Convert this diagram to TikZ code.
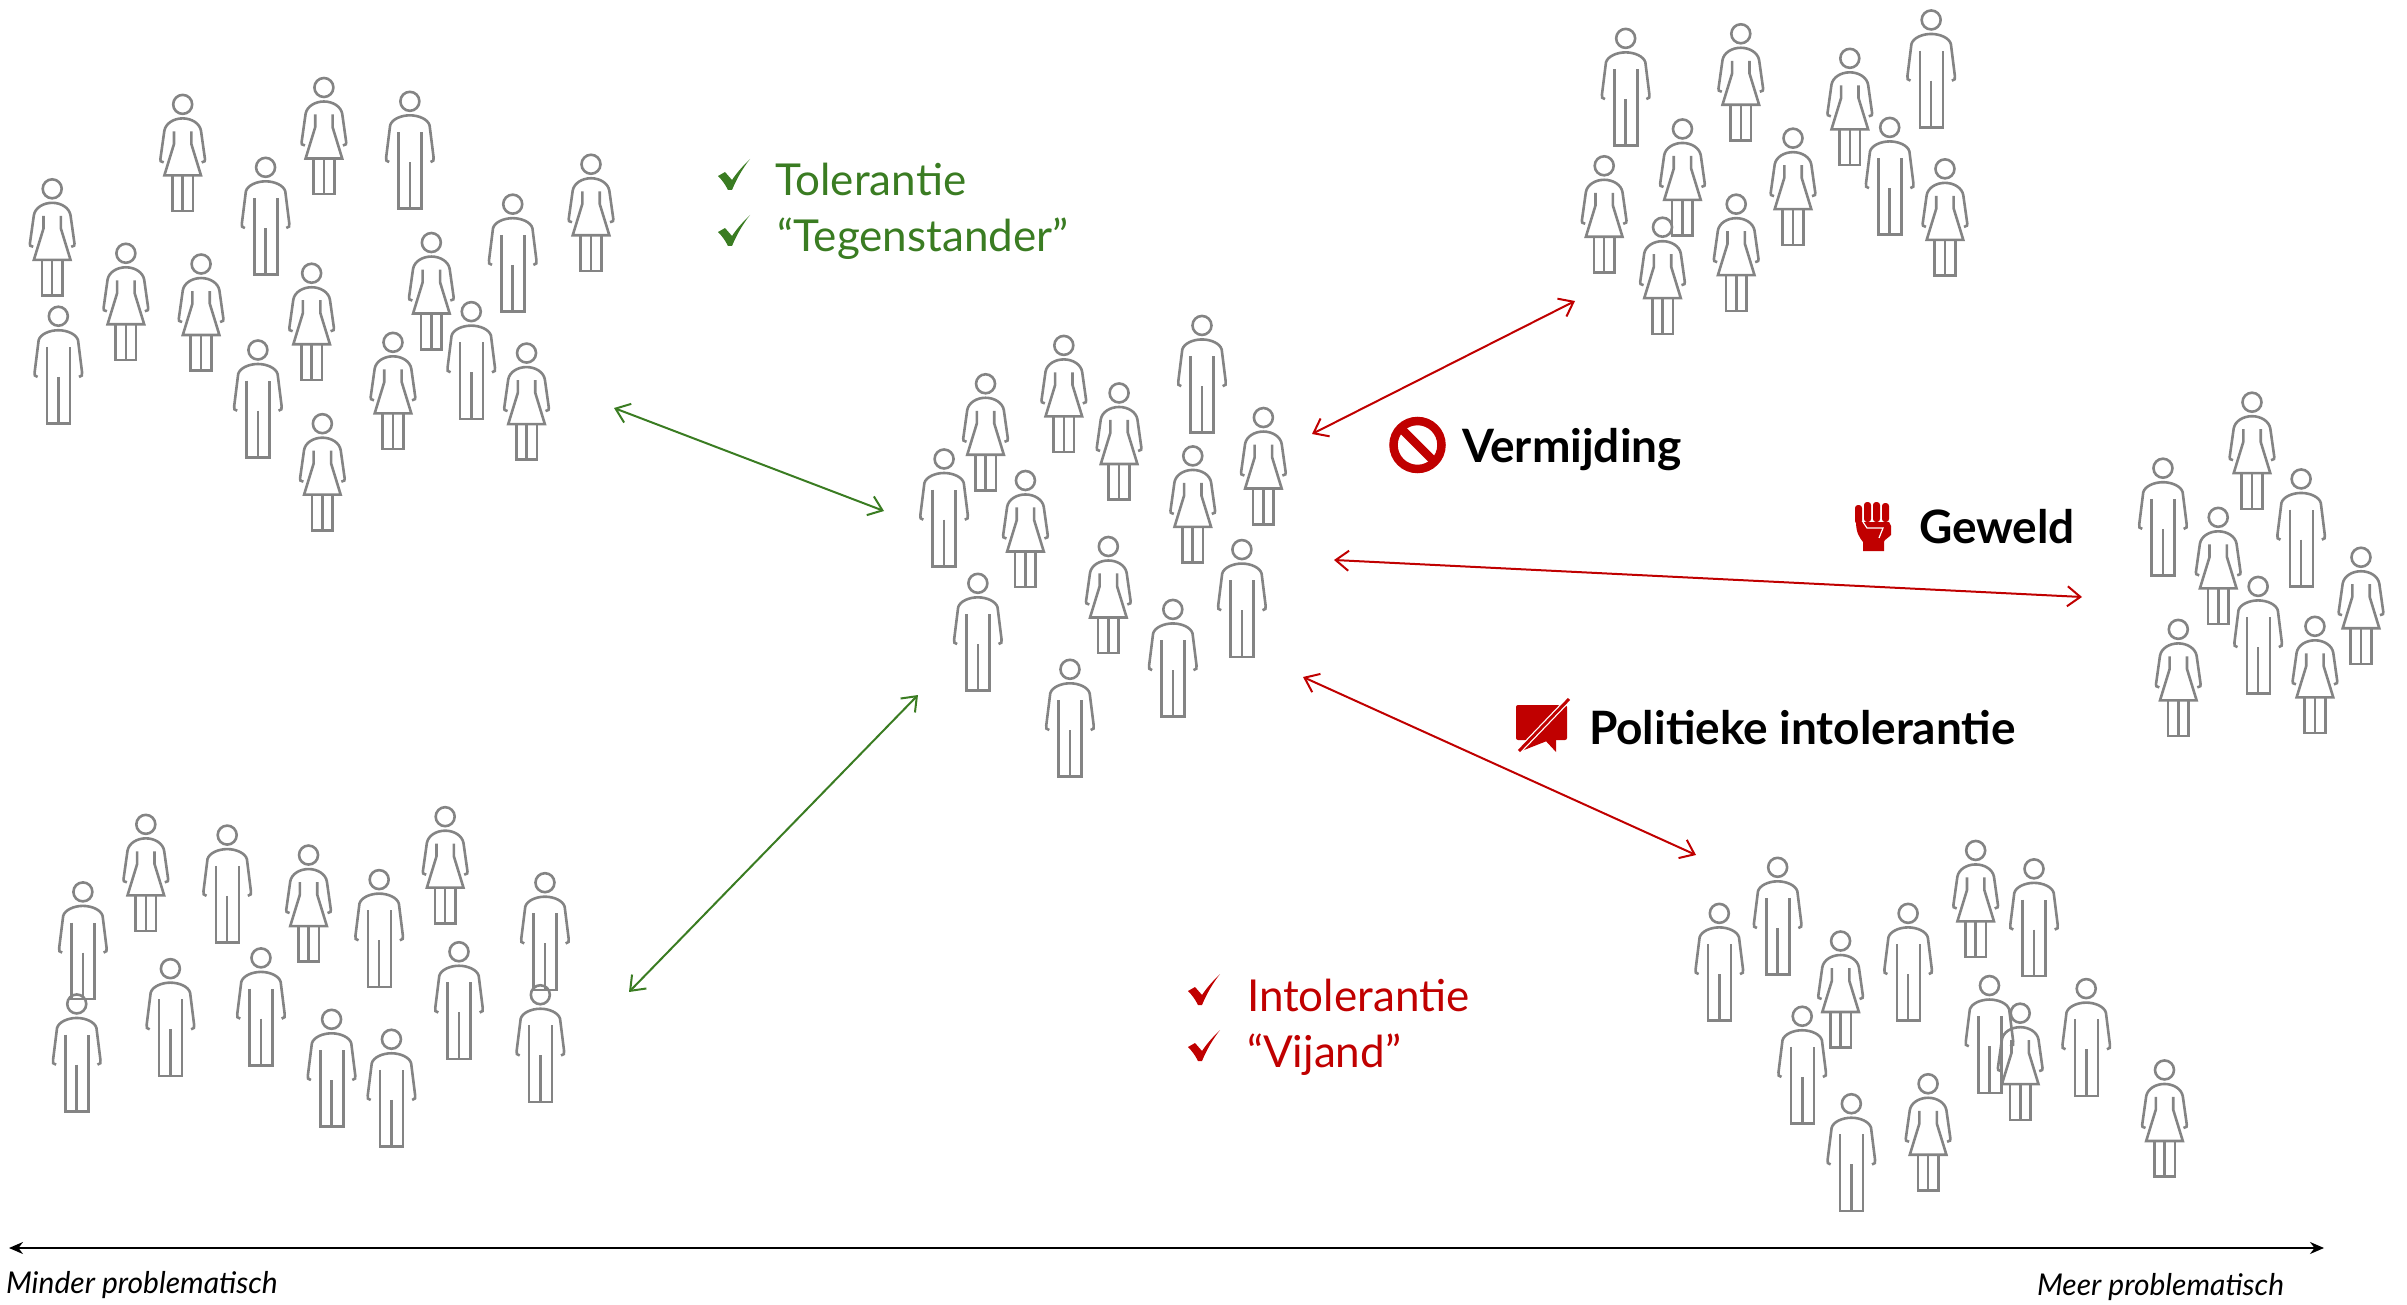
\documentclass[tikz,border=0pt]{standalone}
\usepackage{fontspec}
\setmainfont{Lato}
\usetikzlibrary{arrows.meta}
\definecolor{figgrey}{HTML}{848484}
\definecolor{okgreen}{HTML}{3A7C22}
\definecolor{badred}{HTML}{C00000}
\tikzset{
  person/.style={draw=figgrey,line width=2.6pt,line join=miter,fill=none},
  twoway/.style={line width=2pt,{Straight Barb[length=13pt,width=20pt,line width=2pt]}-{Straight Barb[length=13pt,width=20pt,line width=2pt]}},
  axisline/.style={black,line width=2pt,{Stealth[length=14pt,width=12pt]}-{Stealth[length=14pt,width=12pt]}},
  lab/.style={anchor=base west,inner sep=0pt,outer sep=0pt},
  goodtxt/.style={lab,text=okgreen,font=\fontsize{44}{50}\selectfont},
  badtxt/.style={lab,text=badred,font=\fontsize{44}{50}\selectfont},
  boldtxt/.style={lab,text=black,font=\fontsize{46}{50}\selectfont\bfseries},
  axistxt/.style={lab,text=black,font=\fontsize{30}{36}\selectfont\itshape},
  man/.pic={
    \draw[person] (0,0) circle (9.5);
    \draw[person] (-20.7,60.7) .. controls (-23.7,60.7) and (-24.2,58.5) .. (-23.7,56)
      -- (-19.7,24) .. controls (-18,18) and (-9,14) .. (0,14)
      .. controls (9,14) and (18,18) .. (19.7,24) -- (23.7,56)
      .. controls (24.2,58.5) and (23.7,60.7) .. (20.7,60.7);
    \draw[person] (-11.3,30.7) -- (-11.3,107.3) -- (11.7,107.3) -- (11.7,30.7);
    \draw[person] (0,60.7) -- (0,107.3);
  },
  woman/.pic={
    \draw[person] (0,0) circle (9.5);
    \draw[person] (-19,58) .. controls (-22,58) and (-22.8,56) .. (-22.3,54.7)
      -- (-18.3,26.3) .. controls (-17,19) and (-9,14) .. (0,14)
      .. controls (9,14) and (17,19) .. (18.3,26.3) -- (22.3,54.7)
      .. controls (22.8,56) and (22,58) .. (19,58);
    \draw[person] (-8.7,27) -- (-8.7,39.7) -- (-18.3,71) -- (18.3,71) -- (8.7,39.7) -- (8.7,27);
    \draw[person] (-10.3,71) -- (-10.3,106.7) -- (10.3,106.7) -- (10.3,71);
    \draw[person] (0,71) -- (0,106.7);
  },
  checkmark/.pic={
    \fill (0,17) -- (7,13) -- (14,21) .. controls (20,12) and (26,6) .. (32,0)
      .. controls (25,9) and (19,19) .. (14,31) -- (10,31) .. controls (7,25) and (4,21) .. (0,17) -- cycle;
  }
}
\begin{document}
\begin{tikzpicture}[x=1pt,y=-1pt]
\useasboundingbox (0,0) rectangle (2407,1305);
% men
\foreach \px/\py in {
 267/66,173/109,334/133,38/206,307/203,168/228,
 783/212,615/299,809/358,637/380,764/397,697/436,
 1059/25,1258/13,1231/83,
 1409/305,1499/312,1471/382,
 148/544,247/573,355/575,54/581,111/631,299/620,170/624,50/654,352/648,216/664,255/677,
 1158/565,1325/566,1120/595,1243/595,1296/642,1359/644,1174/662,1206/719}
 \pic at ({\px*1.5351},{\py*1.5351}) {man};
% women
\foreach \px/\py in {
 119/68,211/57,34/123,385/107,82/165,131/172,281/158,203/178,256/223,343/230,210/276,
 693/225,642/250,729/256,823/272,668/313,777/297,722/356,
 1134/22,1205/38,1096/84,1168/90,1045/108,1267/110,1131/133,1083/148,
 1467/262,1445/337,1538/363,1419/410,1508/408,
 95/537,201/557,290/532,
 1287/554,1199/613,1316/660,1256/706,1410/697}
 \pic at ({\px*1.5351},{\py*1.5351}) {woman};
% connector ends
\coordinate (ga) at (614,408);
\coordinate (gb) at (884,511);
\coordinate (gc) at (918,695);
\coordinate (gd) at (629,992);
\coordinate (ra) at (1575,301);
\coordinate (rb) at (1312,434);
\coordinate (rc) at (1334,560);
\coordinate (rd) at (2082,597);
\coordinate (re) at (1303,677);
\coordinate (rf) at (1696,855);
\coordinate (axl) at (9,1248);
\coordinate (axr) at (2324,1248);
\draw[twoway,okgreen] (ga) -- (gb);
\draw[twoway,okgreen] (gc) -- (gd);
\draw[twoway,badred] (ra) -- (rb);
\draw[twoway,badred] (rc) -- (rd);
\draw[twoway,badred] (re) -- (rf);
\draw[axisline] (axl) -- (axr);
% text
\node[goodtxt] (t1) at (775,196) {Tolerantie};
\node[goodtxt] (t2) at (777,252) {“Tegenstander”};
\node[badtxt] (t3) at (1247,1011) {Intolerantie};
\node[badtxt] (t4) at (1247,1067) {“Vijand”};
\node[boldtxt] (b1) at (1462,462) {Vermijding};
\node[boldtxt] (b2) at (1919,543) {Geweld};
\node[boldtxt] (b3) at (1589,744) {Politieke intolerantie};
\node[axistxt] (m1) at (6,1293) {Minder problematisch};
\node[axistxt] (m2) at (2037,1295) {Meer problematisch};
% checks
\pic[okgreen] at (718,159) {checkmark};
\pic[okgreen] at (718,215) {checkmark};
\pic[badred] at (1188,974) {checkmark};
\pic[badred] at (1188,1030) {checkmark};
% no sign
\draw[badred,line width=8.5pt] (1417.5,445) circle (24);
\draw[badred,line width=8.5pt] (1400.5,428) -- (1434.5,462);
% fist
\begin{scope}[shift={(1855,502)}]
\fill[badred,rounded corners=3pt] (0,3) rectangle (7,22);
\fill[badred,rounded corners=3pt] (9,0) rectangle (16,20);
\fill[badred,rounded corners=3pt] (18,0) rectangle (25,20);
\fill[badred,rounded corners=3pt] (27,1) rectangle (34,20);
\fill[badred] (1,20) -- (34,20) -- (36,24) -- (36,33) .. controls (33,36) and (29,38) .. (29,40) -- (29,49) -- (8,49) -- (8,40) .. controls (4,35) and (1,30) .. (1,20) -- cycle;
\draw[white,line width=1.2pt] (8,20) -- (12,26) -- (28,26) -- (24,36);
\end{scope}
% crossed speech bubble
\fill[badred,rounded corners=2pt] (1516,705) rectangle (1567,740);
\fill[badred] (1530,739) -- (1519,752) -- (1552,739) -- cycle;
\fill[badred] (1544,739) -- (1556,752) -- (1556,739) -- cycle;
\draw[white,line width=5.5pt] (1569,699) -- (1519,751);
\draw[badred,line width=3pt] (1569,699) -- (1519,751);
\end{tikzpicture}
\end{document}
